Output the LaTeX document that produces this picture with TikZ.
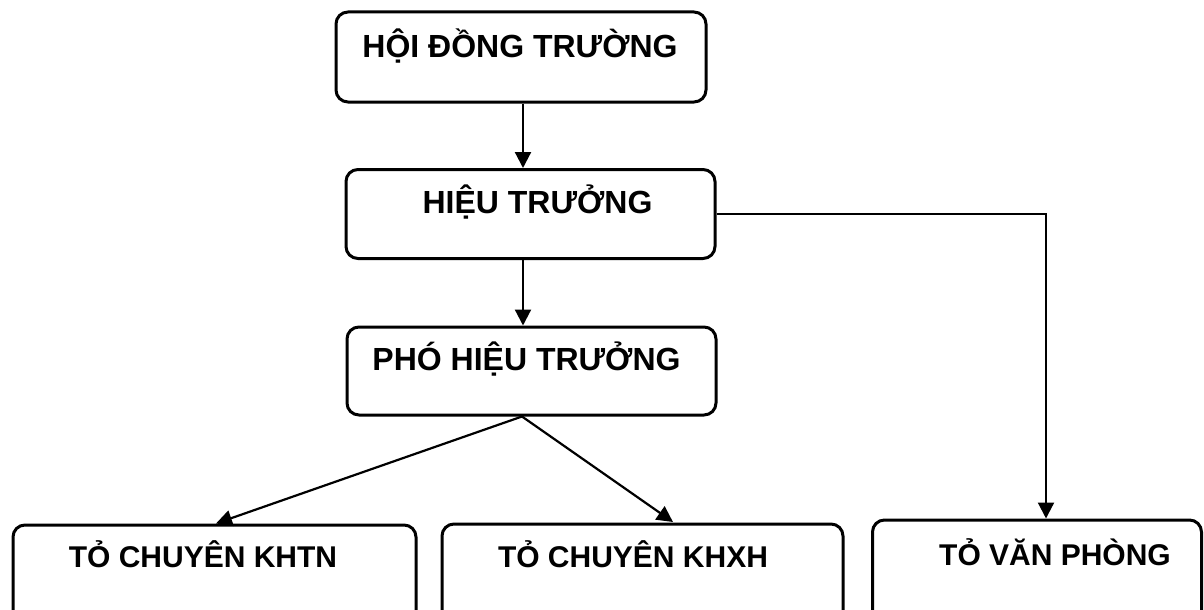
\documentclass[tikz,border=0pt]{standalone}
\usepackage{fontspec}
\setmainfont{Liberation Sans}
\usetikzlibrary{arrows.meta}
\tikzset{
  box/.style={draw=black, line width=3pt, rounded corners=12pt, inner sep=0pt},
  toplabel/.style={anchor=base, inner sep=0pt, font=\bfseries\fontsize{32}{38}\selectfont},
  botlabel/.style={anchor=base, inner sep=0pt, font=\bfseries\fontsize{30}{36}\selectfont},
  arr/.style={draw=black, line width=2.2pt, -{Triangle[length=16pt,width=16pt]}},
}
\begin{document}
\begin{tikzpicture}[x=1pt,y=-1pt]
\useasboundingbox (0,0) rectangle (1204,610);
\clip (0,0) rectangle (1204,610);
\fill[white] (0,0) rectangle (1204,610);
% boxes
\node[box, minimum width=370pt, minimum height=90pt] (b1) at (521,57) {};
\node[box, minimum width=369pt, minimum height=89pt] (b2) at (530.5,214) {};
\node[box, minimum width=369pt, minimum height=88pt] (b3) at (531.5,371) {};
\node[box, minimum width=403pt, minimum height=100pt] (b4) at (214.5,575) {};
\node[box, minimum width=401pt, minimum height=100pt] (b5) at (642.5,574) {};
\node[box, minimum width=329pt, minimum height=104pt] (b6) at (1037,572) {};
% labels
\node[toplabel] (t1) at (520,57) {HỘI ĐỒNG TRƯỜNG};
\node[toplabel] (t2) at (537.5,213) {HIỆU TRƯỞNG};
\node[toplabel] (t3) at (526.5,370) {PHÓ HIỆU TRƯỞNG};
\node[botlabel] (t4) at (203,567) {TỎ CHUYÊN KHTN};
\node[botlabel] (t5) at (633,567) {TỎ CHUYÊN KHXH};
\node[botlabel] (t6) at (1055,565) {TỎ VĂN PHÒNG};
% connectors
\draw[arr] (b1.south -| 523,0) -- (b2.north -| 523,0);
\draw[arr] (b2.south -| 523,0) -- (b3.north -| 523,0);
\draw[arr] (b3.south -| 522,0) -- (b4.north -| 216,0);
\draw[arr] (b3.south -| 522,0) -- (673,522);
\draw[arr] (b2.east) -| (b6.north -| 1046,0);
\end{tikzpicture}
\end{document}
